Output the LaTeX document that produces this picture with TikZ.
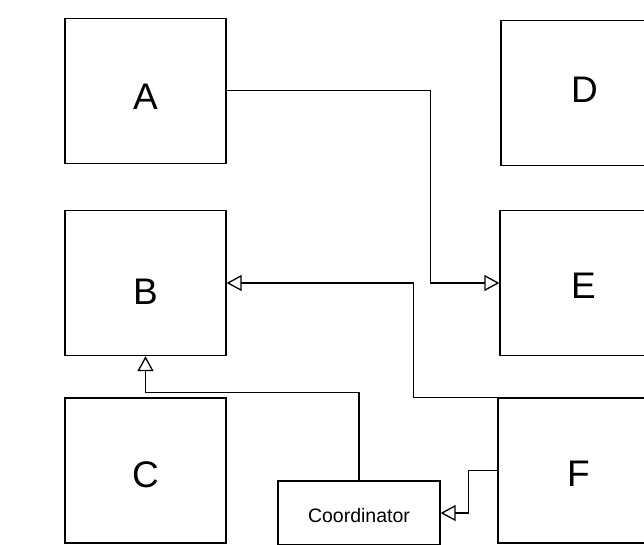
\documentclass[tikz,border=0pt]{standalone}
\usepackage{fontspec}
\setmainfont{Liberation Sans}
\usetikzlibrary{arrows.meta}
\begin{document}
\begin{tikzpicture}[x=1pt,y=-1pt,
  box/.style={draw=black,line width=1.3pt,fill=white,minimum width=161pt,minimum height=145pt,inner sep=0pt},
  big/.style={font=\fontsize{37}{40}\selectfont},
  small/.style={draw=black,line width=1.3pt,fill=white,minimum width=162pt,minimum height=64pt,inner sep=0pt},
  smallfont/.style={font=\fontsize{19.5}{22}\selectfont},
  conn/.style={line width=1.3pt,draw=black,-{Triangle[open,length=15pt,width=16pt]}}]
\useasboundingbox (0,0) rectangle (644,544);
\clip (0,0) rectangle (644,544);
\fill[white] (0,0) rectangle (644,544);
\node[box,label={[big,yshift=-6pt]center:A}] (A) at (145.5,90.75) {};
\node[box,label={[big,yshift=-9pt]center:B}] (B) at (145.5,283) {};
\node[box,label={[big,yshift=-4pt]center:C}] (C) at (145.5,470.5) {};
\node[box,label={[big,xshift=3pt,yshift=3pt]center:D}] (D) at (581.5,93) {};
\node[box,label={[big,xshift=3pt,yshift=-3pt]center:E}] (E) at (580.5,283) {};
\node[box,label={[big,yshift=-3pt]center:F}] (F) at (578.5,470.5) {};
\node[small,label={[smallfont,yshift=-3pt]center:Coordinator}] (Co) at (359,513) {};
\draw[conn] (A.east) -| ([xshift=-69pt]E.west) -- (E.west);
\draw[conn] (F.north west) -- ++(-84,0) |- (B.east);
\draw[conn] (Co.north) -- ++(0,-88) -| (B.south);
\draw[conn] (F.west) -- ++(-29,0) |- (Co.east);
\end{tikzpicture}
\end{document}
